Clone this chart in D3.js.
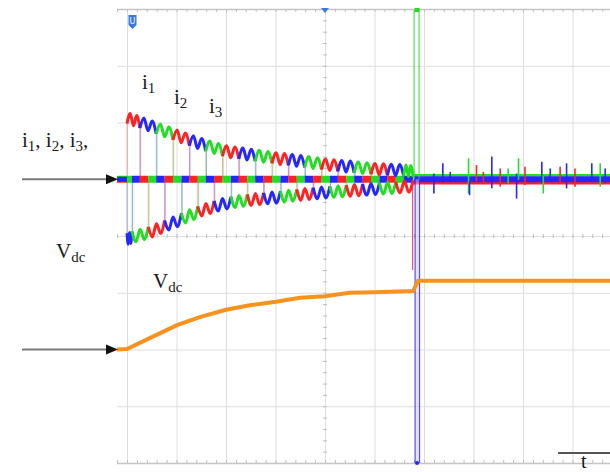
<!DOCTYPE html>
<html>
<head>
<meta charset="utf-8">
<script src="https://cdn.jsdelivr.net/npm/d3@7"></script>
<style>
body { margin: 0; background: #fff; }
svg { display: block; }
.lbl { font-family: "Liberation Serif", "Times New Roman", serif; fill: #1a1a1a; }
</style>
</head>
<body>
<svg id="scope" width="610" height="472"></svg>
<script>
// phase names and trace colours
var phases = ['i1', 'i2', 'i3'];
var phaseColors = { i1: '#ff2222', i2: '#2626ff', i3: '#22dd22' };

// current envelope (divisions from the channel zero)
var envTime  = [0, 0.5, 1, 1.5, 2, 2.5, 3, 3.5, 4, 4.5, 5, 5.5, 5.78];
var envUpper = [1.08, 0.93, 0.77, 0.62, 0.49, 0.43, 0.37, 0.32, 0.26, 0.22, 0.18, 0.16, 0.14];
var envLower = [-1.05, -0.92, -0.74, -0.55, -0.42, -0.36, -0.32, -0.27, -0.23, -0.2, -0.17, -0.14, -0.12];

// commutation instants (div) and the phase conducting in each interval
var upperSwitch = [0, 0.26, 0.59, 0.93, 1.26, 1.59, 1.93, 2.26, 2.59, 2.93, 3.26, 3.59, 3.93, 4.26, 4.59, 4.93, 5.26, 5.59, 5.78];
var upperPhase  = ['i1', 'i2', 'i3', 'i1', 'i2', 'i3', 'i1', 'i2', 'i3', 'i1', 'i2', 'i3', 'i1', 'i2', 'i3', 'i1', 'i2', 'i3'];
var lowerSwitch = [0, 0.1, 0.43, 0.76, 1.1, 1.43, 1.76, 2.1, 2.43, 2.76, 3.1, 3.43, 3.76, 4.1, 4.43, 4.76, 5.1, 5.43, 5.78];
var lowerPhase  = ['i2', 'i3', 'i1', 'i2', 'i3', 'i1', 'i2', 'i3', 'i1', 'i2', 'i3', 'i1', 'i2', 'i3', 'i1', 'i2', 'i3', 'i1'];

// switch-off transient lines
var transTime  = [5.77, 5.8, 5.9, 5.82, 5.91];
var transPhase = ['i1', 'i3', 'i3', 'i2', 'i2'];
var transTo    = [-1.6, 2.98, 2.98, -5, -5];

// residual spikes after switch-off
var spikeTime  = [6.2, 6.38, 6.53, 6.9, 6.92, 7.06, 7.2, 7.37, 7.54, 7.7, 7.87, 7.91, 8.04, 8.38, 8.41, 8.55, 8.75, 8.88, 9.05, 9.39, 9.56, 9.66];
var spikePhase = ['i2', 'i2', 'i2', 'i3', 'i2', 'i1', 'i1', 'i2', 'i1', 'i3', 'i2', 'i3', 'i1', 'i2', 'i3', 'i2', 'i1', 'i2', 'i1', 'i2', 'i3', 'i2'];
var spikeHigh  = [0.1, 0.28, 0.13, 0.37, -0.04, 0.25, 0.13, 0.4, 0.19, 0.19, 0.1, 0.37, 0.22, 0.31, 0.07, 0.19, 0.22, 0.28, 0.19, 0.28, 0.28, 0.19];
var spikeLow   = [-0.25, 0.02, -0.01, -0.25, -0.28, -0.04, -0.07, -0.16, -0.13, -0.07, -0.34, -0.01, -0.1, -0.07, -0.25, -0.01, -0.07, -0.16, -0.13, -0.04, -0.13, -0.07];

// dc link voltage (div above its marker)
var vdcTime  = [-0.2, 0, 0.46, 1.01, 1.47, 2.0, 2.48, 3.01, 3.5, 4.0, 4.5, 5.0, 5.78, 5.88, 10.2];
var vdcValue = [0, 0.01, 0.2, 0.43, 0.57, 0.7, 0.78, 0.84, 0.91, 0.94, 1.0, 1.01, 1.03, 1.21, 1.21];

var svg = d3.select('#scope');

// screen scales: 10 x 8 divisions
var x = d3.scaleLinear().domain([0, 10]).range([127, 622]);
var yScreen = d3.scaleLinear().domain([0, 8]).range([463, 9]);
var yI = d3.scaleLinear().domain([-5, 3]).range([463, 9]);   // current channel, zero at 5 div
var yV = d3.scaleLinear().domain([-2, 6]).range([463, 9]);   // vdc channel, zero at 2 div
var envUp = d3.scaleLinear().domain(envTime).range(envUpper).clamp(true);
var envLo = d3.scaleLinear().domain(envTime).range(envLower).clamp(true);

// grid
var grid = svg.append('g').attr('class', 'grid');
grid.selectAll('line.h').data(d3.range(0, 9)).enter().append('line')
  .attr('x1', 117).attr('x2', 610)
  .attr('y1', function(d) { return yScreen(d) + 0.5; })
  .attr('y2', function(d) { return yScreen(d) + 0.5; })
  .attr('stroke', function(d) { return d == 0 || d == 8 ? '#c4c4c4' : '#dedede'; })
  .attr('stroke-width', function(d) { return d == 0 || d == 8 ? 1.5 : 1; });
grid.selectAll('line.v').data(d3.range(0, 10)).enter().append('line')
  .attr('x1', function(d) { return x(d) + 0.5; })
  .attr('x2', function(d) { return x(d) + 0.5; })
  .attr('y1', 9).attr('y2', 463)
  .attr('stroke', '#dedede');

// minor ticks on frame and centre lines
var minorX = d3.range(-0.2, 9.9, 0.2);
var minorY = d3.range(0.2, 8, 0.2);
function ticks(g) {
  g.select('.domain').remove();
  g.selectAll('.tick line').attr('stroke', '#bdbdbd');
}
svg.append('g').attr('transform', 'translate(0,9)')
  .call(d3.axisBottom(x).tickValues(minorX).tickSize(3).tickFormat('')).call(ticks);
svg.append('g').attr('transform', 'translate(0,463)')
  .call(d3.axisTop(x).tickValues(minorX).tickSize(3).tickFormat('')).call(ticks);
svg.append('g').attr('transform', 'translate(0,' + (yScreen(4) - 2) + ')')
  .call(d3.axisBottom(x).tickValues(minorX).tickSize(4).tickFormat('')).call(ticks);
svg.append('g').attr('transform', 'translate(' + (x(4) - 2) + ',0)')
  .call(d3.axisRight(yScreen).tickValues(minorY).tickSize(4).tickFormat('')).call(ticks);

// markers on top edge
svg.append('path').attr('d', 'M128.5,15 h8 v10 l-4,4 l-4,-4 z').attr('fill', '#3a78e0');
svg.append('text').attr('x', 132.5).attr('y', 24).attr('text-anchor', 'middle')
  .attr('font-size', 8).attr('font-family', 'DejaVu Sans').attr('fill', '#fff').text('U');
svg.append('path').attr('d', 'M' + (x(4) - 4) + ',8 h8 l-4,5 z').attr('fill', '#3a78e0');

var traces = svg.append('g').attr('class', 'traces');
var line = d3.line()
  .x(function(d) { return x(d[0]); })
  .y(function(d) { return yI(d[1]); })
  .curve(d3.curveMonotoneX);

// ripple points along one conduction interval
var rip = 0.1;
function segmentPoints(t0, t1, env, dir) {
  var n = Math.max(2, Math.round((x(t1) - x(t0)) / 8));
  var pts = [];
  for (var j = 0; j <= 2 * n; j++) {
    var t = t0 + (t1 - t0) * j / (2 * n);
    pts.push([t, env(t) + dir * (j % 2 ? rip : -rip)]);
  }
  return pts;
}

// centre bar: phase that is neither on top nor on bottom
var bounds = Array.from(new Set(upperSwitch.concat(lowerSwitch))).sort(d3.ascending);
function phaseAt(sw, ph, t) {
  var i = d3.bisectRight(sw, t) - 1;
  return ph[Math.max(0, Math.min(ph.length - 1, i))];
}
var centre = [];
for (var k = 0; k < bounds.length - 1; k++) {
  var mid = (bounds[k] + bounds[k + 1]) / 2;
  var up = phaseAt(upperSwitch, upperPhase, mid);
  var lo = phaseAt(lowerSwitch, lowerPhase, mid);
  centre.push({ t0: bounds[k], t1: bounds[k + 1], phase: phases.filter(function(p) { return p != up && p != lo; })[0] });
}

// thin commutation lines
function commLines(sw, ph, env) {
  var data = [];
  sw.forEach(function(t, i) {
    if (i < ph.length) data.push({ t: t, v: env(t), phase: ph[i] });
    if (i > 0) data.push({ t: t + 0.015, v: env(t), phase: ph[i - 1] });
  });
  traces.append('g').selectAll('line').data(data).enter().append('line')
    .attr('x1', function(d) { return x(d.t); })
    .attr('x2', function(d) { return x(d.t); })
    .attr('y1', yI(0))
    .attr('y2', function(d) { return yI(d.v); })
    .attr('stroke', function(d) { return phaseColors[d.phase]; })
    .attr('stroke-width', 1)
    .attr('opacity', 0.4);
}
commLines(upperSwitch, upperPhase, envUp);
commLines(lowerSwitch, lowerPhase, envLo);

// before start: three channels stacked at zero
[['i1', 2, 3], ['i3', -2, 3], ['i2', 0, 5]].forEach(function(s) {
  traces.append('line')
    .attr('x1', x(-0.2)).attr('x2', x(0))
    .attr('y1', yI(0) + s[1]).attr('y2', yI(0) + s[1])
    .attr('stroke', phaseColors[s[0]]).attr('stroke-width', s[2]);
});
traces.selectAll('line.centre').data(centre).enter().append('line')
  .attr('x1', function(d) { return x(d.t0); })
  .attr('x2', function(d) { return x(d.t1); })
  .attr('y1', yI(0)).attr('y2', yI(0))
  .attr('stroke', function(d) { return phaseColors[d.phase]; })
  .attr('stroke-width', 7);

// conduction intervals with ripple
function segments(sw, ph, env, dir) {
  var data = ph.map(function(p, i) { return { phase: p, pts: segmentPoints(sw[i], sw[i + 1], env, dir) }; });
  traces.append('g').selectAll('path').data(data).enter().append('path')
    .attr('d', function(d) { return line(d.pts); })
    .attr('fill', 'none')
    .attr('stroke', function(d) { return phaseColors[d.phase]; })
    .attr('stroke-width', 3)
    .attr('stroke-linejoin', 'round');
}
segments(upperSwitch, upperPhase, envUp, 1);
segments(lowerSwitch, lowerPhase, envLo, -1);

// after switch-off: flat traces near zero (green above, red below)
[['i3', -4, 2.5], ['i1', 4, 2.5], ['i2', 0, 6]].forEach(function(s) {
  traces.append('line')
    .attr('x1', x(5.8)).attr('x2', 610)
    .attr('y1', yI(0) + s[1]).attr('y2', yI(0) + s[1])
    .attr('stroke', phaseColors[s[0]]).attr('stroke-width', s[2]);
});

// residual spikes
traces.append('g').selectAll('line').data(spikeTime).enter().append('line')
  .attr('x1', function(d) { return x(d); })
  .attr('x2', function(d) { return x(d); })
  .attr('y1', function(d, i) { return yI(spikeHigh[i]); })
  .attr('y2', function(d, i) { return yI(spikeLow[i]); })
  .attr('stroke', function(d, i) { return phaseColors[spikePhase[i]]; })
  .attr('stroke-width', 1.6);

// switch-off transient
traces.append('rect')
  .attr('x', x(transTime[3])).attr('width', x(transTime[4]) - x(transTime[3]))
  .attr('y', yI(0)).attr('height', yI(-5) - yI(0))
  .attr('fill', '#c9c9ff').attr('opacity', 0.5);
traces.append('g').selectAll('line').data(transTime).enter().append('line')
  .attr('x1', function(d) { return x(d); })
  .attr('x2', function(d) { return x(d); })
  .attr('y1', yI(0))
  .attr('y2', function(d, i) { return yI(transTo[i]); })
  .attr('stroke', function(d, i) { return phaseColors[transPhase[i]]; })
  .attr('stroke-width', 1.2)
  .attr('opacity', 0.8);
svg.append('rect').attr('x', x(5.85) - 2).attr('y', 8).attr('width', 5).attr('height', 4).attr('fill', '#22dd22');
svg.append('circle').attr('cx', x(5.86)).attr('cy', 463).attr('r', 2).attr('fill', '#2626ff');

// vdc trace
svg.append('path')
  .datum(vdcTime.map(function(t, i) { return [t, vdcValue[i]]; }))
  .attr('d', d3.line().x(function(d) { return x(d[0]); }).y(function(d) { return yV(d[1]); }))
  .attr('fill', 'none')
  .attr('stroke', '#f7921e')
  .attr('stroke-width', 4);

// channel arrows
[[22, yI(0)], [22, yV(0)]].forEach(function(a) {
  svg.append('line').attr('x1', a[0]).attr('x2', 108).attr('y1', a[1]).attr('y2', a[1])
    .attr('stroke', '#7a7a7a').attr('stroke-width', 2);
  svg.append('path').attr('d', 'M106,' + (a[1] - 5) + ' L118,' + a[1] + ' L106,' + (a[1] + 5) + ' z').attr('fill', '#111');
});

// labels
function label(tx, ty, main, sub, size) {
  var t = svg.append('text').attr('class', 'lbl').attr('x', tx).attr('y', ty).attr('font-size', size || 21);
  t.append('tspan').text(main);
  if (sub) t.append('tspan').attr('font-size', 15).attr('dy', 4).text(sub);
  return t;
}
label(142, 89, 'i', '1');
label(174, 104, 'i', '2');
label(209, 113, 'i', '3');
var multi = svg.append('text').attr('class', 'lbl').attr('x', 22).attr('y', 147).attr('font-size', 21);
[['i', '1'], ['i', '2'], ['i', '3']].forEach(function(p) {
  multi.append('tspan').text(p[0]);
  multi.append('tspan').attr('font-size', 15).attr('dy', 4).text(p[1]);
  multi.append('tspan').attr('dy', -4).text(', ');
});
label(56, 258, 'V', 'dc');
label(153, 288, 'V', 'dc');

// time axis hint
svg.append('line').attr('x1', 558).attr('x2', 610).attr('y1', 453).attr('y2', 453)
  .attr('stroke', '#555').attr('stroke-width', 2);
label(581, 468, 't', null, 20);
</script>
</body>
</html>
